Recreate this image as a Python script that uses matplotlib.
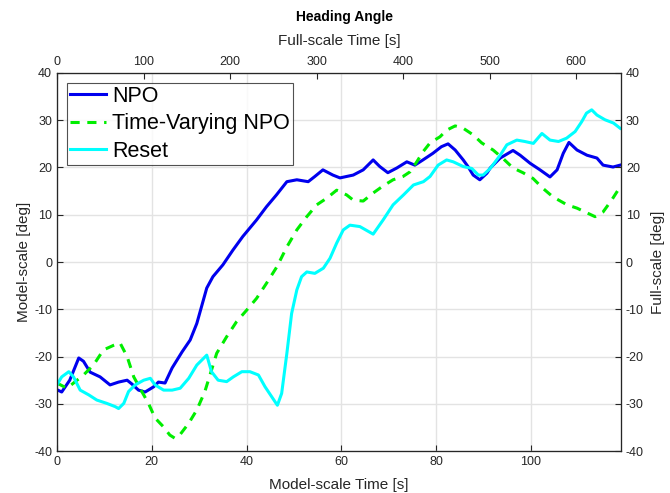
import matplotlib
matplotlib.use("Agg")
import matplotlib.pyplot as plt
import numpy as np

plt.rcParams['font.family'] = ['Liberation Sans', 'DejaVu Sans']
plt.rcParams['axes.unicode_minus'] = False

# Model-scale time [s] and heading [deg]
npo_t = [0, 1.0, 2.7, 4.6, 5.6, 7.0, 9.1, 11.2, 13.0, 14.8, 15.8, 17.2, 18.6, 20.4, 21.4, 22.8,
         24.3, 26.4, 28.1, 29.5, 30.9, 31.6, 32.9, 35.0, 37.1, 39.2, 42.1, 44.2, 46.3, 48.5,
         50.6, 53.0, 54.4, 56.1, 58.2, 59.7, 62.5, 64.6, 66.7, 68.1, 69.8, 71.7, 73.8, 75.5,
         77.2, 79.3, 81.1, 82.5, 84.0, 85.7, 86.7, 87.8, 89.2, 90.7, 91.4, 93.5, 96.2, 97.7,
         99.8, 101.9, 104.0, 105.5, 106.8, 108.0, 109.7, 111.8, 113.9, 115.2, 117.3, 118.8]
npo_y = [-27.0, -27.5, -25.0, -20.3, -21.0, -23.3, -24.3, -26.0, -25.4, -25.0, -25.8, -27.1,
         -27.5, -26.4, -25.4, -25.6, -22.4, -19.0, -16.5, -13.0, -8.0, -5.5, -3.1, -0.6, 2.5,
         5.4, 8.9, 11.7, 14.2, 17.0, 17.4, 17.0, 18.1, 19.5, 18.4, 17.8, 18.4, 19.5, 21.6, 20.2,
         18.9, 19.9, 21.2, 20.5, 21.6, 23.0, 24.4, 25.0, 23.7, 21.6, 20.2, 18.4, 17.4, 18.8,
         19.9, 22.0, 23.6, 22.6, 20.9, 19.5, 18.0, 19.5, 23.0, 25.3, 23.7, 22.6, 22.0, 20.5,
         20.1, 20.5]

tv_t = [0, 2.1, 3.5, 5.6, 7.7, 9.8, 12.0, 13.3, 14.8, 16.2, 17.9, 19.3, 20.7, 22.5, 23.8, 24.9,
        25.9, 27.8, 29.5, 31.2, 33.7, 35.8, 37.9, 40.0, 42.1, 44.2, 46.4, 48.5, 50.6, 52.7,
        54.8, 56.9, 59.0, 61.1, 62.5, 64.6, 66.7, 68.8, 70.9, 73.0, 74.5, 75.9, 77.2, 78.7,
        80.8, 82.2, 84.0, 85.7, 87.8, 89.6, 92.0, 94.1, 96.2, 98.3, 100.4, 102.5, 104.6, 107.6,
        109.7, 111.8, 113.5, 115.2, 117.0, 118.8]
tv_y = [-25.6, -26.7, -25.6, -23.9, -21.8, -18.6, -17.6, -17.1, -20.0, -24.3, -27.4, -29.9,
        -33.0, -34.9, -36.6, -37.3, -36.6, -34.1, -31.3, -27.4, -19.3, -15.8, -12.6, -10.2,
        -7.7, -4.5, -1.0, 3.2, 6.8, 9.6, 12.1, 13.5, 15.2, 14.2, 13.1, 12.9, 14.6, 16.1, 17.4,
        18.1, 19.1, 21.2, 23.3, 25.2, 26.5, 27.9, 28.8, 28.3, 26.9, 25.2, 23.7, 21.9, 19.9,
        18.9, 17.7, 15.6, 13.8, 12.1, 11.4, 10.4, 9.6, 10.6, 13.1, 15.9]

rs_t = [0, 1.0, 2.5, 3.5, 4.9, 6.7, 8.4, 10.5, 12.3, 13.0, 14.1, 15.1, 16.5, 18.3, 19.7, 20.7,
        22.5, 24.3, 26.0, 27.8, 29.5, 31.6, 32.6, 34.0, 35.8, 37.2, 39.0, 40.7, 42.5, 43.9,
        45.3, 46.5, 47.4, 48.5, 49.5, 50.6, 51.6, 52.7, 54.4, 56.2, 57.6, 59.0, 60.4, 61.8,
        63.9, 66.7, 68.8, 70.9, 73.1, 75.2, 77.3, 78.7, 80.4, 82.2, 83.6, 85.7, 87.5, 88.9,
        89.9, 91.4, 93.5, 94.9, 97.0, 98.7, 100.5, 102.3, 104.0, 105.8, 107.5, 109.3, 110.7,
        111.7, 112.8, 113.9, 115.6, 117.4, 118.8]
rs_y = [-26.0, -24.3, -23.2, -24.3, -27.1, -28.1, -29.2, -29.9, -30.6, -31.0, -29.9, -27.4,
        -26.0, -25.0, -24.6, -26.0, -27.1, -27.1, -26.7, -24.6, -21.8, -19.7, -23.2, -25.0,
        -25.3, -24.3, -23.2, -23.2, -23.9, -26.4, -28.5, -30.3, -27.8, -19.3, -10.9, -5.9,
        -3.1, -2.1, -2.4, -1.3, 0.8, 4.0, 6.8, 7.8, 7.5, 5.9, 8.9, 12.1, 14.2, 16.3, 17.0, 18.1,
        20.5, 21.6, 21.2, 20.2, 19.8, 18.4, 18.4, 19.8, 22.6, 24.8, 25.8, 25.5, 25.1, 27.2,
        25.8, 25.5, 26.2, 27.6, 29.7, 31.5, 32.2, 31.1, 30.1, 29.4, 28.3]

scale = np.sqrt(30.0)   # Froude scaling model -> full
t_max = 119.0

fig = plt.figure(figsize=(6.7, 4.93), dpi=100)
ax = fig.add_axes([0.085, 0.085, 0.842, 0.767])

ax.plot(npo_t, npo_y, color='#0000ee', lw=2.2, label='NPO')
ax.plot(tv_t, tv_y, color='#00ee00', lw=2.2, ls=(0, (3, 2.5)), label='Time-Varying NPO')
ax.plot(rs_t, rs_y, color='#00ffff', lw=2.2, label='Reset')

ax.set_xlim(0, t_max)
ax.set_ylim(-40, 40)
ax.set_xticks(np.arange(0, 101, 20))
ax.set_yticks(np.arange(-40, 41, 10))
ax.grid(True, color='#e3e3e3', lw=1)
ax.set_axisbelow(True)
ax.set_xlabel('Model-scale Time [s]', fontsize=11, color='#262626', labelpad=7)
ax.set_ylabel('Model-scale [deg]', fontsize=11, color='#262626', labelpad=2)

# top axis: full-scale time
axt = ax.twiny()
axt.set_xlim(0, t_max * scale)
axt.set_xticks(np.arange(0, 601, 100))
axt.set_xlabel('Full-scale Time [s]', fontsize=11, color='#262626', labelpad=8)

# right axis: full-scale heading
axr = ax.twinx()
axr.set_ylim(-40, 40)
axr.set_yticks(np.arange(-40, 41, 10))
axr.set_ylabel('Full-scale [deg]', fontsize=11, color='#262626', labelpad=5)

for a in (ax, axt, axr):
    a.tick_params(direction='in', labelsize=9, colors='#262626', length=4, width=0.8)
    for s in a.spines.values():
        s.set_color('#262626')
        s.set_linewidth(0.8)
ax.tick_params(right=False, top=False)

fig.text(0.514, 0.965, 'Heading Angle', ha='center', va='center', fontsize=10,
         fontweight='bold', color='black')

leg = ax.legend(loc='upper left', fontsize=15.5, frameon=True, fancybox=False,
                handlelength=1.7, handletextpad=0.25, borderpad=0.15, labelspacing=0.3,
                borderaxespad=0.45)
leg.get_frame().set_edgecolor('#262626')
leg.get_frame().set_linewidth(0.8)
for t in leg.get_texts():
    t.set_color('black')

fig.savefig('out.png', dpi=100)
